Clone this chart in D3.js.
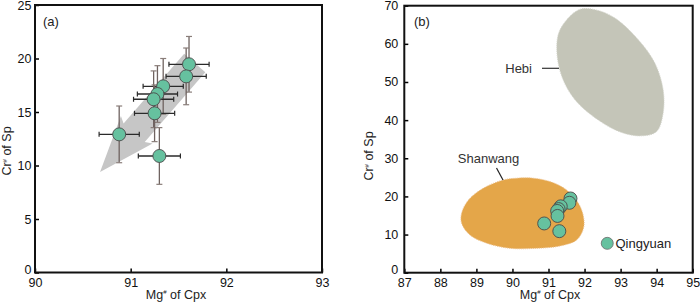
<!DOCTYPE html>
<html>
<head>
<meta charset="utf-8">
<script src="https://cdn.jsdelivr.net/npm/d3@7"></script>
<style>
  html, body { margin: 0; padding: 0; background: #fff; }
  svg { display: block; font-family: "Liberation Sans", Arial, sans-serif; }
</style>
</head>
<body>
<svg id="chart" width="700" height="302"></svg>
<script>
// ---------- data ----------
const mgCpx  = [91.61, 91.58, 91.34, 91.28, 91.24, 91.25, 90.88, 91.30];
const crSp   = [19.46, 18.33, 17.40, 16.68, 16.19, 14.88, 12.91, 10.89];
const mgErr  = [0.21, 0.21, 0.21, 0.21, 0.21, 0.21, 0.21, 0.22];
const crErr  = [2.6, 2.65, 2.6, 2.65, 2.65, 2.65, 2.65, 2.65];

const xTicksA = [90, 91, 92, 93];
const yTicksA = [0, 5, 10, 15, 20, 25];
const xTicksB = [87, 88, 89, 90, 91, 92, 93, 94, 95];
const yTicksB = [0, 10, 20, 30, 40, 50, 60, 70];

// trend arrow (tail -> tip) in data units of panel (a)
const arrowMg = [91.67, 90.68];
const arrowCr = [19.58, 9.39];

// field outlines (panel b), data units
const hebiMg = [91.83, 91.32, 91.23, 91.37, 91.74, 92.38, 93.03, 93.59, 94.00, 94.18, 94.18, 93.95, 93.49, 92.84, 92.29];
const hebiCr = [68.9, 63.7, 58.45, 51.44, 45.28, 40.03, 36.75, 35.88, 37.0, 41.84, 47.95, 54.96, 61.08, 66.77, 68.95];
const shanMg = [90.12, 89.75, 89.19, 88.78, 88.59, 88.59, 88.82, 89.29, 89.93, 90.67, 91.32, 91.78, 91.97, 91.97, 91.83, 91.50, 91.04, 90.58];
const shanCr = [24.78, 24.33, 22.15, 19.08, 15.59, 12.97, 9.89, 7.72, 6.40, 6.40, 7.01, 8.58, 11.65, 14.70, 18.22, 21.71, 23.88, 24.78];

const qingyuanMg = [92.63];
const qingyuanCr = [7.7];

// ---------- setup ----------
const svg = d3.select("#chart");
const ptFill = "#66c19f", ptStroke = "#4a4a4a";

function drawFrame(g, x, y, xTicks, yTicks, yPad) {
  const [x0, x1] = x.range(), [y0, y1] = y.range();
  const xa = g.append("g").attr("transform", `translate(0,${y0})`)
    .call(d3.axisBottom(x).tickValues(xTicks).tickFormat(d3.format("d"))
      .tickSizeInner(-4).tickSizeOuter(0).tickPadding(5.5));
  const ya = g.append("g").attr("transform", `translate(${x0},0)`)
    .call(d3.axisLeft(y).tickValues(yTicks).tickFormat(d3.format("d"))
      .tickSizeInner(-4).tickSizeOuter(0).tickPadding(yPad));
  [xa, ya].forEach(a => {
    a.select(".domain").remove();
    a.selectAll("line").attr("stroke", "#000").attr("stroke-width", 1.5);
    a.selectAll("text").attr("fill", "#111").style("font-size", "12.5px")
      .style("font-family", "'Liberation Sans', Arial, sans-serif");
  });
  ya.selectAll(".tick").filter(d => d === 0).select("text").attr("dy", "0.1em");
  g.append("rect").attr("x", x0).attr("y", y1)
    .attr("width", x1 - x0).attr("height", y0 - y1)
    .attr("fill", "none").attr("stroke", "#111").attr("stroke-width", 2);
}

function axisTitles(g, cx, cy, yx, yy) {
  const t = g.append("text").attr("x", cx).attr("y", cy).attr("text-anchor", "middle")
    .attr("fill", "#222").style("font-size", "12.5px");
  t.append("tspan").text("Mg");
  t.append("tspan").text("#").attr("dy", -4.5).style("font-size", "6px");
  t.append("tspan").text(" of  Cpx").attr("dy", 4.5);
  const u = g.append("text").attr("transform", `translate(${yx},${yy}) rotate(-90)`)
    .attr("text-anchor", "middle").attr("fill", "#222").style("font-size", "12.5px");
  u.append("tspan").text("Cr");
  u.append("tspan").text("#").attr("dy", -4.5).style("font-size", "6px");
  u.append("tspan").text(" of Sp").attr("dy", 4.5);
}

// ---------- panel (a) ----------
const xA = d3.scaleLinear().domain([90, 93]).range([35, 322]);
const yA = d3.scaleLinear().domain([0, 25]).range([272.5, 5]);
const gA = svg.append("g");

// arrow
(function () {
  const tx = xA(arrowMg[0]), ty = yA(arrowCr[0]);
  const hx = xA(arrowMg[1]), hy = yA(arrowCr[1]);
  const L = Math.hypot(hx - tx, hy - ty);
  const ux = (hx - tx) / L, uy = (hy - ty) / L;   // unit toward tip
  const px = -uy, py = ux;                          // perpendicular
  const sw = 14, hw = 21, hl = 52, sweep = 4;
  const P = (a, b) => [tx + ux * a + px * b, ty + uy * a + py * b];
  const pts = [P(0, -sw), P(L - hl, -sw), P(L - hl - sweep, -hw), P(L, 0),
               P(L - hl - sweep, hw), P(L - hl, sw), P(0, sw)];
  gA.append("polygon").attr("points", pts.map(p => p.join(",")).join(" "))
    .attr("fill", "#c6c6c6");
})();

const idx = d3.range(mgCpx.length);
const eb = gA.append("g");
idx.forEach(i => {
  const cx = xA(mgCpx[i]), cy = yA(crSp[i]);
  const yt = yA(crSp[i] + crErr[i]), yb = yA(crSp[i] - crErr[i]);
  const xl = xA(mgCpx[i] - mgErr[i]), xr = xA(mgCpx[i] + mgErr[i]);
  eb.append("line").attr("x1", cx).attr("x2", cx).attr("y1", yt).attr("y2", yb)
    .attr("stroke", "#6f6360").attr("stroke-width", 1.3);
  [yt, yb].forEach(v => eb.append("line").attr("x1", cx - 3).attr("x2", cx + 3)
    .attr("y1", v).attr("y2", v).attr("stroke", "#8a7e7a").attr("stroke-width", 1.2));
  eb.append("line").attr("x1", xl).attr("x2", xr).attr("y1", cy).attr("y2", cy)
    .attr("stroke", "#2a2a2a").attr("stroke-width", 1.3);
  [xl, xr].forEach(v => eb.append("line").attr("x1", v).attr("x2", v)
    .attr("y1", cy - 2.5).attr("y2", cy + 2.5).attr("stroke", "#2a2a2a").attr("stroke-width", 1.2));
});
gA.append("g").selectAll("circle").data(idx).join("circle")
  .attr("cx", i => xA(mgCpx[i])).attr("cy", i => yA(crSp[i])).attr("r", 6.5)
  .attr("fill", ptFill).attr("stroke", ptStroke).attr("stroke-width", 0.9);

drawFrame(gA, xA, yA, xTicksA, yTicksA, 3.5);
gA.append("text").attr("x", 43).attr("y", 26).text("(a)")
  .attr("fill", "#222").style("font-size", "13px");
axisTitles(gA, 176, 298.5, 11, 151);

// ---------- panel (b) ----------
const xB = d3.scaleLinear().domain([87, 95]).range([404.3, 692.7]);
const yB = d3.scaleLinear().domain([0, 70]).range([272.7, 5.7]);
const gB = svg.append("g");
const outline = d3.line().curve(d3.curveCatmullRomClosed.alpha(0.5));

gB.append("path")
  .attr("d", outline(hebiMg.map((m, i) => [xB(m), yB(hebiCr[i])])))
  .attr("fill", "#c4c5b8").attr("stroke", "#d4d5cc").attr("stroke-width", 1)
  .attr("stroke-dasharray", "1,1");
gB.append("path")
  .attr("d", outline(shanMg.map((m, i) => [xB(m), yB(shanCr[i])])))
  .attr("fill", "#e4a649").attr("stroke", "#eec08a").attr("stroke-width", 1)
  .attr("stroke-dasharray", "1,1");

gB.append("g").selectAll("circle").data(idx).join("circle")
  .attr("cx", i => xB(mgCpx[i])).attr("cy", i => yB(crSp[i])).attr("r", 6.5)
  .attr("fill", ptFill).attr("stroke", ptStroke).attr("stroke-width", 0.9);
gB.append("circle").attr("cx", xB(qingyuanMg[0])).attr("cy", yB(qingyuanCr[0])).attr("r", 6)
  .attr("fill", ptFill).attr("stroke", "#6a6a6a").attr("stroke-width", 0.8);

// labels and leaders
gB.append("text").attr("x", 532).attr("y", 72.5).attr("text-anchor", "end")
  .text("Hebi").attr("fill", "#333").style("font-size", "13px");
gB.append("line").attr("x1", 542).attr("x2", 559).attr("y1", 68.3).attr("y2", 68.3)
  .attr("stroke", "#333").attr("stroke-width", 1.2);
gB.append("text").attr("x", 488.5).attr("y", 162.5).attr("text-anchor", "middle")
  .text("Shanwang").attr("fill", "#333").style("font-size", "13px");
gB.append("line").attr("x1", 496.5).attr("x2", 503).attr("y1", 168).attr("y2", 180)
  .attr("stroke", "#222").attr("stroke-width", 1.2);
gB.append("text").attr("x", 615.5).attr("y", 248).text("Qingyuan")
  .attr("fill", "#222").style("font-size", "13px");

drawFrame(gB, xB, yB, xTicksB, yTicksB, 6);
gB.append("text").attr("x", 414).attr("y", 26).text("(b)")
  .attr("fill", "#222").style("font-size", "13px");
axisTitles(gB, 550, 298.5, 373, 156);
</script>
</body>
</html>
